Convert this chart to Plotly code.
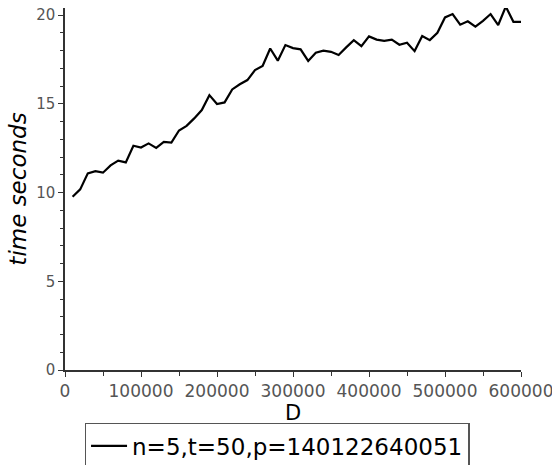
import plotly.graph_objects as go

D_values = [10000 * i for i in range(1, 61)]
time_seconds = [
    9.76, 10.18, 11.08, 11.21, 11.12, 11.53, 11.80, 11.70, 12.64, 12.54,
    12.77, 12.52, 12.85, 12.81, 13.50, 13.76, 14.18, 14.65, 15.49, 14.99,
    15.08, 15.81, 16.10, 16.34, 16.90, 17.13, 18.12, 17.43, 18.31, 18.14,
    18.07, 17.42, 17.88, 18.00, 17.93, 17.75, 18.18, 18.59, 18.25, 18.80,
    18.62, 18.55, 18.62, 18.33, 18.44, 17.97, 18.82, 18.59, 19.00, 19.87,
    20.06, 19.46, 19.65, 19.35, 19.68, 20.06, 19.44, 20.48, 19.62, 19.62,
]
series_name = "n=5,t=50,p=140122640051"
x_ticks = [0, 100000, 200000, 300000, 400000, 500000, 600000]
y_ticks = [0, 5, 10, 15, 20]

fig = go.Figure()
fig.add_trace(go.Scatter(
    x=D_values, y=time_seconds, mode="lines", name=series_name,
    line=dict(color="black", width=2.2),
))

font = "DejaVu Sans"
fig.update_layout(
    width=552, height=465,
    margin=dict(l=65, r=31, t=8, b=95, autoexpand=False),
    paper_bgcolor="white", plot_bgcolor="white",
    showlegend=True,
    legend=dict(
        orientation="h", x=0.465, xanchor="center", y=-0.146, yanchor="top",
        bordercolor="#555555", borderwidth=1.5,
        font=dict(family=font, size=23, color="black"),
        itemwidth=36, tracegroupgap=0,
    ),
    xaxis=dict(
        range=[0, 600000], tickvals=x_ticks, ticktext=[str(v) for v in x_ticks],
        automargin=False, ticklabeloverflow="allow",
        showgrid=False, zeroline=False, showline=True, linecolor="#333333", linewidth=1.5,
        ticks="outside", ticklen=5, tickcolor="#333333",
        minor=dict(dtick=50000, ticks="outside", ticklen=4, tickcolor="#333333", showgrid=False),
        tickfont=dict(family=font, size=17, color="#555555"),
        title=dict(text="D", font=dict(family=font, size=21, color="black"), standoff=1),
    ),
    yaxis=dict(
        range=[0, 20.4], tickvals=y_ticks,
        automargin=False,
        showgrid=False, zeroline=False, showline=True, linecolor="#333333", linewidth=1.5,
        ticks="outside", ticklen=5, tickcolor="#333333",
        minor=dict(dtick=1, ticks="outside", ticklen=3, tickcolor="#333333", showgrid=False),
        tickfont=dict(family=font, size=15, color="#555555"),
        title=dict(text="<i>time seconds</i>", font=dict(family=font, size=23, color="black"), standoff=3),
    ),
)

fig.write_html("out.html", config={"displayModeBar": False},
               post_script="document.body.style.margin='0px';")
